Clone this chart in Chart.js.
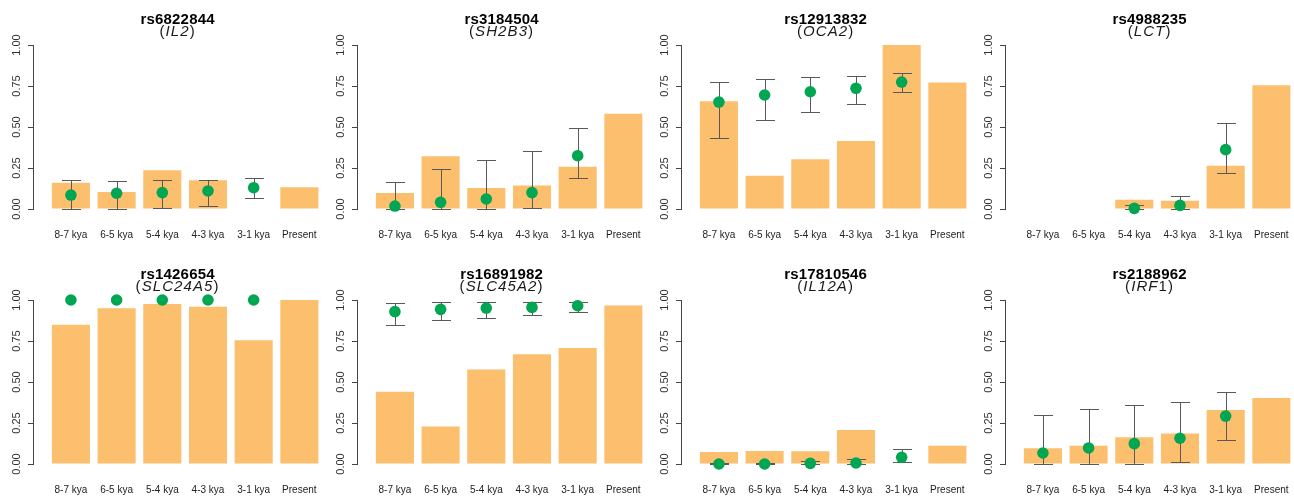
<!DOCTYPE html>
<html>
<head>
<meta charset="utf-8">
<script src="https://cdn.jsdelivr.net/npm/chart.js@4.4.1/dist/chart.umd.min.js"></script>
<style>
  html, body { margin: 0; padding: 0; background: #fff; overflow: hidden; }
  #wrap { position: relative; width: 1294px; height: 500px; overflow: hidden; }
  #wrap canvas { position: absolute; }
</style>
</head>
<body>
<div id="wrap"></div>
<script>
// Sampling periods on the x axis
const periods = ['8-7 kya', '6-5 kya', '5-4 kya', '4-3 kya', '3-1 kya', 'Present'];
// Y axis ticks (derived allele frequency)
const yTicks = [0, 0.25, 0.5, 0.75, 1];

// SNP identifiers and their genes (italic part + upright suffix)
const snpIds = ['rs6822844', 'rs3184504', 'rs12913832', 'rs4988235',
                'rs1426654', 'rs16891982', 'rs17810546', 'rs2188962'];
const geneItalic = ['IL2', 'SH2B3', 'OCA2', 'LCT', 'SLC24A5', 'SLC45A2', 'IL12A', 'IRF'];
const geneUpright = ['', '', '', '', '', '', '', '1'];

// Observed frequency per period (bars)
const sampleFreq = [
  [0.160, 0.104, 0.236, 0.175, null, 0.132],
  [0.098, 0.321, 0.128, 0.144, 0.258, 0.581],
  [0.657, 0.203, 0.303, 0.415, 1.000, 0.772],
  [null, null, 0.057, 0.051, 0.264, 0.754],
  [0.849, 0.949, 0.976, 0.959, 0.755, 1.000],
  [0.441, 0.229, 0.576, 0.669, 0.708, 0.967],
  [0.073, 0.080, 0.078, 0.208, null, 0.112],
  [0.096, 0.112, 0.163, 0.186, 0.329, 0.402]
];
// Estimated frequency per period (points)
const estFreq = [
  [0.085, 0.096, 0.100, 0.110, 0.130, null],
  [0.018, 0.041, 0.061, 0.100, 0.325, null],
  [0.652, 0.695, 0.715, 0.736, 0.774, null],
  [null, null, 0.004, 0.022, 0.362, null],
  [1.000, 1.000, 1.000, 1.000, 1.000, null],
  [0.929, 0.943, 0.951, 0.955, 0.965, null],
  [0.000, 0.000, 0.004, 0.006, 0.041, null],
  [0.067, 0.098, 0.124, 0.157, 0.292, null]
];
// Interval bounds for the estimates
const ciLow = [
  [0.000, 0.000, 0.008, 0.016, 0.065, null],
  [0.000, 0.000, 0.000, 0.008, 0.187, null],
  [0.433, 0.541, 0.593, 0.640, 0.711, null],
  [null, null, 0.000, 0.000, 0.217, null],
  [null, null, null, null, null, null],
  [0.847, 0.878, 0.892, 0.908, 0.927, null],
  [0.000, 0.000, 0.000, 0.000, 0.012, null],
  [0.000, 0.000, 0.000, 0.014, 0.147, null]
];
const ciHigh = [
  [0.177, 0.173, 0.177, 0.179, 0.187, null],
  [0.165, 0.242, 0.297, 0.352, 0.492, null],
  [0.774, 0.795, 0.803, 0.811, 0.827, null],
  [null, null, 0.024, 0.079, 0.522, null],
  [null, null, null, null, null, null],
  [0.982, 0.986, 0.986, 0.986, 0.988, null],
  [0.008, 0.008, 0.020, 0.031, 0.094, null],
  [0.298, 0.337, 0.359, 0.376, 0.437, null]
];

const BAR_COLOR = '#FBBF6E';
const POINT_COLOR = '#00A651';
const AXIS_COLOR = '#444444';
const FONT = '"Liberation Sans", Arial, Helvetica, sans-serif';

const panelLeft = [0, 324, 648, 972];
const panelTop = [0, 255];
const PANEL_W = 328, PANEL_H = 245;

// Vertical interval whiskers with caps, drawn between bars and points
const errorBars = {
  id: 'errorBars',
  afterDatasetDraw(chart, args, opts) {
    if (args.index !== 0) return;
    const { ctx, scales: { x, y } } = chart;
    ctx.save();
    ctx.strokeStyle = '#595959';
    ctx.lineWidth = 1;
    opts.low.forEach((lo, i) => {
      const hi = opts.high[i];
      if (lo == null || hi == null) return;
      const px = Math.round(x.getPixelForValue(i)) + 0.5;
      const y0 = Math.round(y.getPixelForValue(lo)) + 0.5;
      const y1 = Math.round(y.getPixelForValue(hi)) + 0.5;
      ctx.beginPath();
      ctx.moveTo(px, y0); ctx.lineTo(px, y1);
      ctx.moveTo(px - 9.5, y0); ctx.lineTo(px + 9.5, y0);
      ctx.moveTo(px - 9.5, y1); ctx.lineTo(px + 9.5, y1);
      ctx.stroke();
    });
    ctx.restore();
  }
};

// Rotated y tick labels and the two-line panel heading
const panelText = {
  id: 'panelText',
  afterDraw(chart, args, opts) {
    const { ctx, chartArea, scales: { y } } = chart;
    ctx.save();
    ctx.fillStyle = '#333';
    ctx.font = '11px ' + FONT;
    ctx.textAlign = 'center';
    ctx.textBaseline = 'middle';
    y.ticks.forEach(t => {
      const py = y.getPixelForValue(t.value);
      ctx.save();
      ctx.translate(chartArea.left - 16, py);
      ctx.rotate(-Math.PI / 2);
      ctx.fillText(t.value.toFixed(2), 0, 0);
      ctx.restore();
    });

    const cx = (chartArea.left + chartArea.right) / 2;
    ctx.fillStyle = '#000';
    ctx.font = 'bold 15px ' + FONT;
    ctx.letterSpacing = '0.2px';
    ctx.fillText(opts.snp, cx, 19.5);

    // "(" upright, gene name italic, optional upright suffix, ")" upright
    ctx.fillStyle = '#1a1a1a';
    ctx.letterSpacing = '1.1px';
    const parts = [
      ['(', '15px ' + FONT],
      [opts.italic, 'italic 15px ' + FONT],
      [opts.upright, '15px ' + FONT],
      [')', '15px ' + FONT]
    ].filter(p => p[0]);
    let total = 0;
    parts.forEach(p => { ctx.font = p[1]; p.push(ctx.measureText(p[0]).width); total += p[2]; });
    let sx = cx - total / 2;
    ctx.textAlign = 'left';
    parts.forEach(p => { ctx.font = p[1]; ctx.fillText(p[0], sx, 31.5); sx += p[2]; });
    ctx.restore();
  }
};

const wrap = document.getElementById('wrap');

snpIds.forEach((snp, k) => {
  const canvas = document.createElement('canvas');
  canvas.width = PANEL_W;
  canvas.height = PANEL_H;
  canvas.style.left = panelLeft[k % 4] + 'px';
  canvas.style.top = panelTop[Math.floor(k / 4)] + 'px';
  canvas.style.width = PANEL_W + 'px';
  canvas.style.height = PANEL_H + 'px';
  wrap.appendChild(canvas);

  new Chart(canvas, {
    type: 'bar',
    data: {
      datasets: [
        {
          type: 'bar',
          data: sampleFreq[k].map((v, i) => ({ x: i, y: v })),
          backgroundColor: BAR_COLOR,
          borderWidth: 0,
          barPercentage: 0.833,
          categoryPercentage: 1,
          order: 2,
          clip: false
        },
        {
          type: 'scatter',
          data: estFreq[k].map((v, i) => ({ x: i, y: v })),
          backgroundColor: POINT_COLOR,
          borderWidth: 0,
          pointRadius: 5.8,
          order: 1,
          clip: false
        }
      ]
    },
    options: {
      responsive: false,
      animation: false,
      devicePixelRatio: 1,
      events: [],
      layout: { padding: { top: 45, right: 0, bottom: 0, left: 0 } },
      plugins: {
        legend: { display: false },
        tooltip: { enabled: false },
        errorBars: { low: ciLow[k], high: ciHigh[k] },
        panelText: { snp: snp, italic: geneItalic[k], upright: geneUpright[k] }
      },
      scales: {
        x: {
          type: 'linear',
          offset: false,
          min: -0.83,
          max: 5.5,
          grid: { display: false, drawTicks: false, offset: false },
          border: { display: false },
          afterBuildTicks: s => { s.ticks = periods.map((p, i) => ({ value: i })); },
          afterFit: s => { s.height = 36; s.paddingLeft = 0; s.paddingRight = 0; },
          ticks: {
            padding: 20,
            color: '#222',
            font: { family: FONT, size: 10 },
            maxRotation: 0,
            autoSkip: false,
            callback: v => periods[v]
          }
        },
        y: {
          min: 0,
          max: 1,
          afterBuildTicks: s => { s.ticks = yTicks.map(v => ({ value: v })); },
          afterFit: s => { s.width = 33; },
          grid: {
            drawOnChartArea: false,
            drawTicks: true,
            tickLength: 5,
            color: AXIS_COLOR,
            lineWidth: 1
          },
          border: { display: true, color: AXIS_COLOR, width: 1 },
          ticks: { display: false }
        }
      }
    },
    plugins: [errorBars, panelText]
  });
});
</script>
</body>
</html>
